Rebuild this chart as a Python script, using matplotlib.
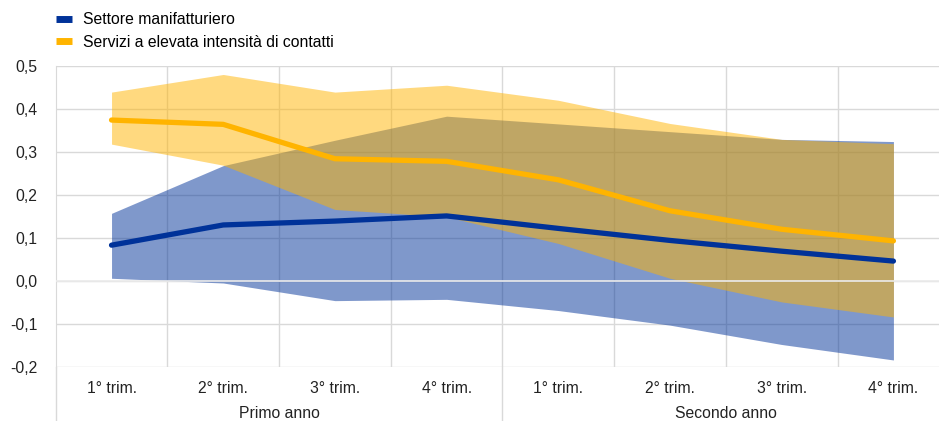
import matplotlib.pyplot as plt
from matplotlib.lines import Line2D
import matplotlib.transforms as mtransforms

plt.rcParams['font.family'] = ['Liberation Sans', 'DejaVu Sans']

# quarters over the two-year horizon
quarters = ["1° trim.", "2° trim.", "3° trim.", "4° trim.",
            "1° trim.", "2° trim.", "3° trim.", "4° trim."]
years = ["Primo anno", "Secondo anno"]

# manufacturing: central estimate and band
manuf = [0.084, 0.131, 0.140, 0.152, 0.123, 0.095, 0.070, 0.047]
manuf_hi = [0.158, 0.269, 0.328, 0.384, 0.366, 0.348, 0.330, 0.325]
manuf_lo = [0.007, -0.004, -0.045, -0.042, -0.068, -0.102, -0.147, -0.183]

# contact-intensive services: central estimate and band
serv = [0.375, 0.365, 0.285, 0.279, 0.236, 0.164, 0.121, 0.094]
serv_hi = [0.440, 0.481, 0.440, 0.456, 0.421, 0.367, 0.330, 0.320]
serv_lo = [0.319, 0.270, 0.167, 0.150, 0.088, 0.007, -0.048, -0.083]

blue = '#003299'
yellow = '#ffb400'
grid_c = '#d9d9d9'
fs = 11.3

fig = plt.figure(figsize=(9.39, 4.21), dpi=100)
ax = fig.add_axes([0.0593, 0.1276, 1 - 0.0593, 0.8425 - 0.1276])

x = list(range(len(quarters)))

ax.fill_between(x, manuf_lo, manuf_hi, color=blue, alpha=0.5, linewidth=0, zorder=2)
ax.fill_between(x, serv_lo, serv_hi, color=yellow, alpha=0.5, linewidth=0, zorder=3)
ax.plot(x, manuf, color=blue, lw=3.8, solid_capstyle='round', zorder=5)
ax.plot(x, serv, color=yellow, lw=3.8, solid_capstyle='round', zorder=6)

# zero line drawn over the bands
ax.axhline(0, color='#ececec', lw=1.2, zorder=4)

ax.set_xlim(-0.5, 7.408)
ax.set_ylim(-0.2, 0.5)
ax.set_yticks([-0.2, -0.1, 0.0, 0.1, 0.2, 0.3, 0.4, 0.5])
ax.set_yticklabels([f"{v:.1f}".replace('.', ',') for v in ax.get_yticks()])

ax.set_xticks(x)
ax.set_xticklabels(quarters)
ax.set_xticks([i + 0.5 for i in range(7)], minor=True)
ax.tick_params(axis='x', which='both', length=0, pad=10, labelsize=fs, colors='#222222')
ax.tick_params(axis='y', length=0, pad=13, labelsize=fs, colors='#222222')

ax.grid(axis='y', color=grid_c, lw=1, zorder=1)
ax.grid(axis='x', which='minor', color=grid_c, lw=1, zorder=1)
ax.grid(axis='x', which='major', visible=False)
for s in ['top', 'right', 'bottom']:
    ax.spines[s].set_visible(False)
ax.spines['left'].set_color(grid_c)
ax.set_axisbelow(True)

# group separators and year labels under the axis
trans = mtransforms.blended_transform_factory(ax.transData, ax.transAxes)
for xs in [-0.5, 3.5]:
    ax.plot([xs, xs], [0, -0.25], color=grid_c, lw=1, transform=trans, clip_on=False)
for xc, lab in zip([1.5, 5.5], years):
    ax.text(xc, -0.152, lab, transform=trans, ha='center', va='center',
            fontsize=fs, color='#222222')

handles = [Line2D([0], [0], color=blue, lw=5, solid_capstyle='butt'),
           Line2D([0], [0], color=yellow, lw=5, solid_capstyle='butt')]
fig.legend(handles, ["Settore manifatturiero", "Servizi a elevata intensità di contatti"],
           loc='upper left', bbox_to_anchor=(0.0596, 0.971), frameon=False,
           fontsize=fs, handlelength=1.05, handletextpad=0.65, labelspacing=0.48,
           borderaxespad=0, borderpad=0)

fig.savefig('out.png', dpi=100)
